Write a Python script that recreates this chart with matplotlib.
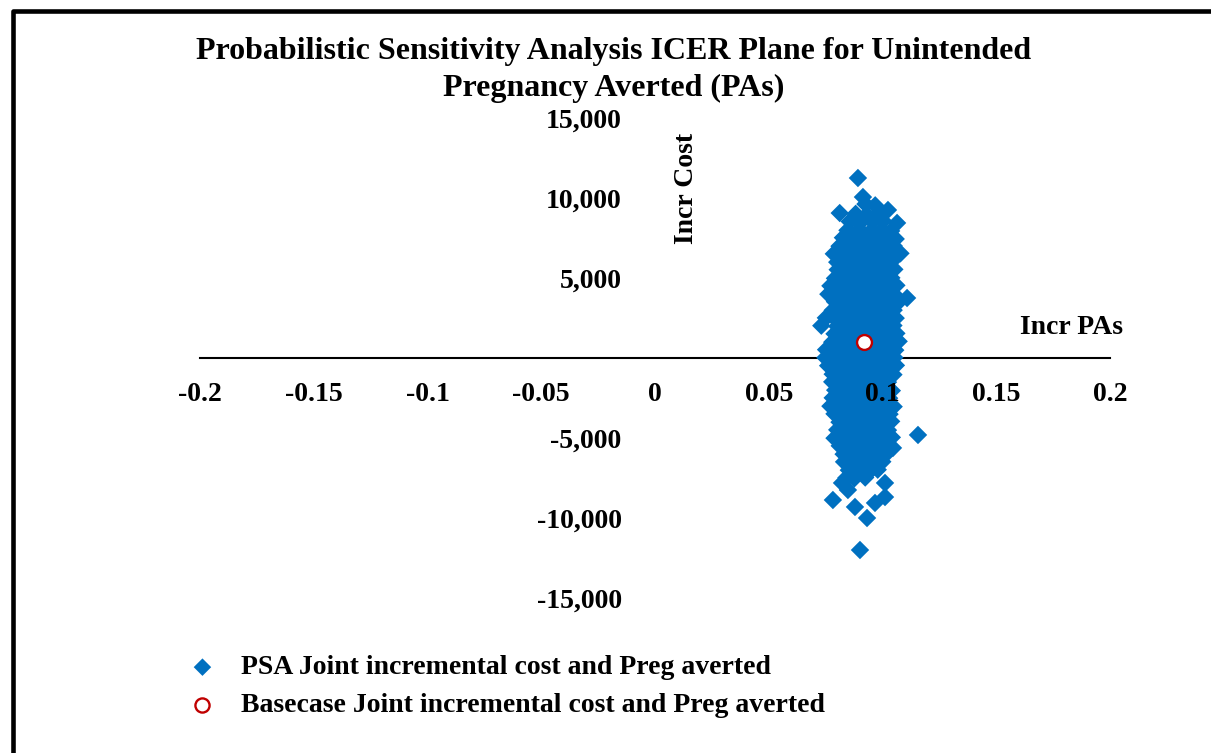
import matplotlib
matplotlib.use("Agg")
import matplotlib.pyplot as plt
from matplotlib.lines import Line2D

plt.rcParams['font.family'] = ['Liberation Serif', 'DejaVu Serif']
plt.rcParams['font.weight'] = 'bold'

# PSA draws: incremental PAs (x) and incremental cost (y)
psa_x = [
    0.0892, 0.0914, 0.0812, 0.1024, 0.1064, 0.1108, 0.1156, 0.1046,
    0.0822, 0.0782, 0.0848, 0.0879, 0.0932, 0.1011, 0.1011, 0.0967, 0.0901, 0.0860, 0.0930,
    0.0925, 0.0968,
    0.0882, 0.0931, 0.0984,
    0.0856, 0.0903, 0.0957, 0.1003,
    0.0846, 0.0898, 0.0951, 0.0999, 0.1038,
    0.0826, 0.0874, 0.0927, 0.0976, 0.1024, 0.1058,
    0.0811, 0.0851, 0.0902, 0.0948, 0.1001, 0.1049,
    0.0786, 0.0827, 0.0873, 0.0926, 0.0974, 0.1026, 0.1079,
    0.0801, 0.0849, 0.0903, 0.0949, 0.1002, 0.1041,
    0.0803, 0.0826, 0.0876, 0.0924, 0.0977, 0.1023, 0.1052,
    0.0791, 0.0852, 0.0898, 0.0951, 0.1001, 0.1039,
    0.0771, 0.0824, 0.0877, 0.0923, 0.0976, 0.1024, 0.1061,
    0.0762, 0.0801, 0.0849, 0.0902, 0.0948, 0.1002, 0.1051,
    0.0791, 0.0826, 0.0874, 0.0927, 0.0973, 0.1026, 0.1074,
    0.0781, 0.0802, 0.0851, 0.0899, 0.0952, 0.0998, 0.1049,
    0.0751, 0.0791, 0.0826, 0.0874, 0.0926, 0.0977, 0.1024, 0.1058,
    0.0731, 0.0801, 0.0849, 0.0901, 0.0952, 0.0999, 0.1048,
    0.0789, 0.0824, 0.0876, 0.0923, 0.0976, 0.1027, 0.1061,
    0.0779, 0.0802, 0.0851, 0.0898, 0.0951, 0.1001, 0.1049, 0.1071,
    0.0752, 0.0789, 0.0826, 0.0874, 0.0927, 0.0976, 0.1023, 0.1056,
    0.0749, 0.0801, 0.0852, 0.0899, 0.0951, 0.0998, 0.1052,
    0.0761, 0.0824, 0.0876, 0.0926, 0.0974, 0.1027, 0.1059,
    0.0781, 0.0799, 0.0851, 0.0902, 0.0949, 0.1001, 0.1048,
    0.0779, 0.0826, 0.0874, 0.0927, 0.0976, 0.1024,
    0.0792, 0.0802, 0.0849, 0.0901, 0.0951, 0.0999, 0.1041,
    0.0781, 0.0826, 0.0876, 0.0923, 0.0977, 0.1029,
    0.0771, 0.0801, 0.0852, 0.0898, 0.0951, 0.1001, 0.1049,
    0.0789, 0.0824, 0.0877, 0.0926, 0.0974, 0.1031,
    0.0811, 0.0849, 0.0902, 0.0949, 0.1001, 0.1038,
    0.0801, 0.0826, 0.0874, 0.0927, 0.0976, 0.1024,
    0.0789, 0.0851, 0.0899, 0.0952, 0.0998, 0.1041,
    0.0812, 0.0826, 0.0876, 0.0923, 0.0977, 0.1022,
    0.0829, 0.0851, 0.0901, 0.0949, 0.0998, 0.1019,
    0.0831, 0.0876, 0.0924, 0.0973, 0.0999,
    0.0852, 0.0899, 0.0948, 0.0979,
    0.0841, 0.0876, 0.0924,
]
psa_y = [
    11250, 10060, 9060, 9250, 8440, 3750, -4810, -5620,
    -7810, -8875, -8250, -9310, -10000, -7810, -8690, -9060, -12000, -7000, -7060,
    9620, 9540,
    9010, 8960, 9040,
    8530, 8470, 8510, 8560,
    7980, 8040, 7960, 8010, 7940,
    7520, 7460, 7530, 7480, 7510, 7440,
    6990, 7040, 6970, 7020, 6960, 7010,
    6510, 6460, 6530, 6480, 6520, 6470, 6540,
    5990, 6030, 5960, 6010, 5970, 6040,
    5520, 5460, 5530, 5490, 5510, 5470, 5540,
    4980, 5030, 4960, 5020, 4970, 5010,
    4510, 4470, 4530, 4490, 4520, 4460, 4540,
    3990, 4040, 3970, 4010, 3960, 4030, 3980,
    3520, 3470, 3530, 3480, 3510, 3460, 3540,
    2980, 3030, 2960, 3020, 2970, 3010, 2990,
    2510, 2460, 2530, 2480, 2520, 2470, 2540, 2490,
    2020, 1980, 2040, 1970, 2010, 1960, 2030,
    1510, 1470, 1530, 1480, 1520, 1460, 1540,
    990, 1030, 970, 1020, 960, 1010, 980, 1040,
    520, 470, 530, 480, 510, 460, 540, 490,
    20, -30, 40, -20, 10, -40, 30,
    -480, -530, -470, -520, -490, -540, -460,
    -1010, -970, -1030, -980, -1020, -960, -1040,
    -1490, -1530, -1470, -1520, -1480, -1510,
    -2010, -1960, -2030, -1980, -2020, -1970, -2040,
    -2490, -2530, -2470, -2520, -2480, -2510,
    -3010, -2970, -3030, -2980, -3020, -2960, -3040,
    -3490, -3530, -3470, -3520, -3480, -3510,
    -4010, -3970, -4030, -3980, -4020, -3960,
    -4490, -4530, -4470, -4520, -4480, -4510,
    -5010, -4970, -5030, -4980, -5020, -4960,
    -5490, -5530, -5470, -5520, -5480, -5510,
    -6010, -5970, -6030, -5980, -6020, -5960,
    -6490, -6530, -6470, -6520, -6480,
    -7010, -6970, -7030, -6980,
    -7490, -7530, -7470,
]

base_x = [0.0919]
base_y = [1000]

x_ticks = [-0.2, -0.15, -0.1, -0.05, 0, 0.05, 0.1, 0.15, 0.2]
x_labels = ['-0.2', '-0.15', '-0.1', '-0.05', '0', '0.05', '0.1', '0.15', '0.2']
y_ticks = [-15000, -10000, -5000, 5000, 10000, 15000]
y_labels = ['-15,000', '-10,000', '-5,000', '5,000', '10,000', '15,000']

W, H = 1211, 753
fig = plt.figure(figsize=(W / 100, H / 100), dpi=100)
ax = fig.add_axes([200 / W, (H - 598) / H, 910 / W, 480 / H])

ax.scatter(psa_x, psa_y, marker='D', s=88, color='#0070C0', edgecolors='none',
           zorder=1, label='PSA Joint incremental cost and Preg averted')
ax.scatter(base_x, base_y, marker='o', s=115, facecolors='white', edgecolors='#C00000',
           linewidths=1.7, zorder=3, label='Basecase Joint incremental cost and Preg averted')

ax.set_xlim(-0.2, 0.2)
ax.set_ylim(-15000, 15000)
for side in ['top', 'right', 'left']:
    ax.spines[side].set_visible(False)
ax.spines['left'].set_position(('data', 0))
ax.spines['bottom'].set_position(('data', 0))
ax.spines['bottom'].set_linewidth(1.5)
ax.spines['bottom'].set_zorder(0.5)

ax.set_xticks(x_ticks)
ax.set_xticklabels(x_labels)
ax.set_yticks(y_ticks)
ax.set_yticklabels(y_labels)
ax.tick_params(axis='x', length=0, pad=17, labelsize=20)
ax.tick_params(axis='y', length=0, pad=24, labelsize=20)
for lab in ax.get_xticklabels() + ax.get_yticklabels():
    lab.set_fontweight('bold')
ax.patch.set_alpha(0)

fig.text(614 / W, 1 - 70 / H,
         'Probabilistic Sensitivity Analysis ICER Plane for Unintended\nPregnancy Averted (PAs)',
         ha='center', va='center', fontsize=23, fontweight='bold', linespacing=1.32)
fig.text(686 / W, 1 - 188 / H, 'Incr Cost', rotation=90, ha='center', va='center',
         fontsize=20, fontweight='bold')
fig.text(1123 / W, 1 - 327 / H, 'Incr PAs', ha='right', va='center',
         fontsize=20, fontweight='bold')

leg = fig.legend(loc='upper left', bbox_to_anchor=(183 / W, 1 - 655 / H), frameon=False,
                 fontsize=20, handlelength=1.4, handletextpad=0.7, borderpad=0,
                 borderaxespad=0, labelspacing=0.45, markerscale=0.95, scatterpoints=1)
for t in leg.get_texts():
    t.set_fontweight('bold')

# frame lines on the left and top edge
fig.add_artist(Line2D([13 / W, 13 / W, 1.0], [0.0, 1 - 11 / H, 1 - 11 / H],
                      color='black', linewidth=3.3, transform=fig.transFigure))

fig.savefig('out.png', dpi=100)
